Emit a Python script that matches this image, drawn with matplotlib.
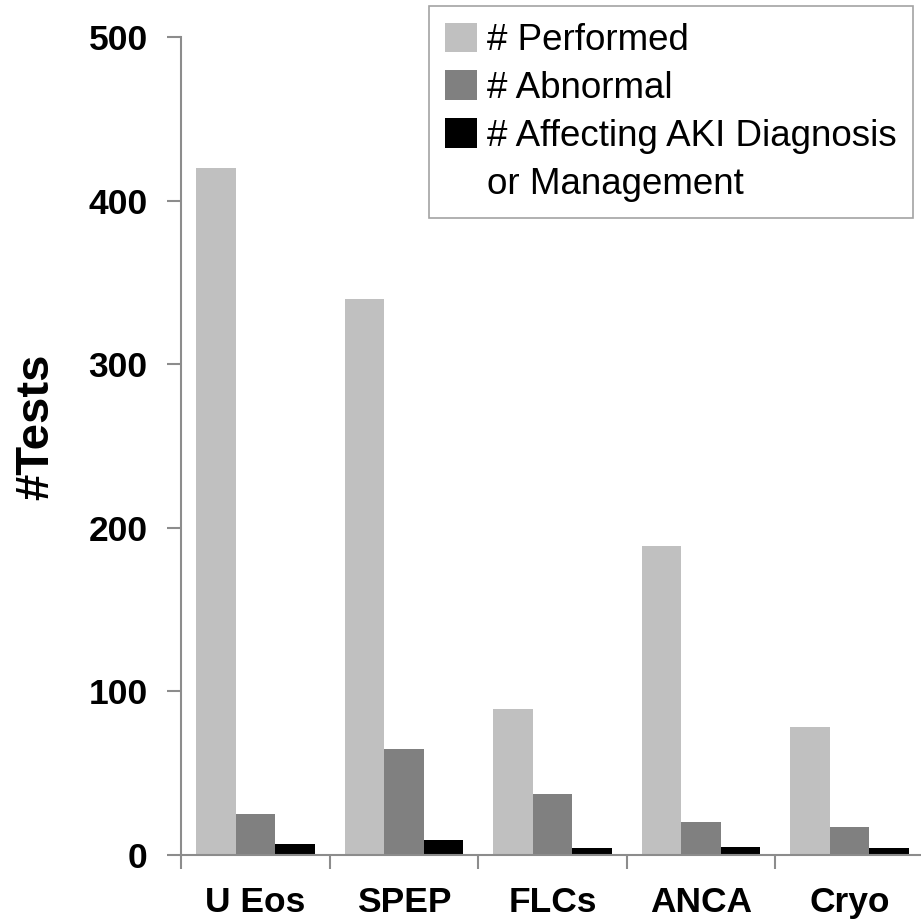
import matplotlib.pyplot as plt
from matplotlib.patches import Patch
import numpy as np

plt.rcParams['font.family'] = ['Liberation Sans', 'DejaVu Sans']

tests = ['U Eos', 'SPEP', 'FLCs', 'ANCA', 'Cryo']
performed = [420, 340, 89, 189, 78]
abnormal = [25, 65, 37, 20, 17]
affecting = [7, 9, 4, 5, 4]

series = [('# Performed', performed, '#c0c0c0'),
          ('# Abnormal', abnormal, '#808080'),
          ('# Affecting AKI Diagnosis', affecting, '#000000')]

fig = plt.figure(figsize=(9.21, 9.19), dpi=100)
ax = fig.add_axes([181 / 921, 64 / 919, 743 / 921, 818 / 919])

x = np.arange(len(tests))
w = 0.266
for i, (name, vals, col) in enumerate(series):
    ax.bar(x + (i - 1) * w, vals, width=w, color=col, label=name, linewidth=0)

ax.set_xlim(-0.5, len(tests) - 0.5)
ax.set_ylim(0, 500)
ax.set_yticks(range(0, 501, 100))

# group separators as ticks, names as untick'd minor labels
ax.set_xticks(np.arange(-0.5, len(tests), 1.0))
ax.set_xticklabels([])
ax.set_xticks(x, minor=True)
ax.set_xticklabels(tests, minor=True, fontsize=25.5, fontweight='bold')
ax.tick_params(axis='x', which='minor', length=0, pad=22)
ax.tick_params(axis='x', which='major', length=10, width=1.5, color='#8c8c8c')
ax.tick_params(axis='y', length=10, width=1.5, color='#8c8c8c', pad=14)
for lab in ax.get_yticklabels():
    lab.set_fontsize(25.5)
    lab.set_fontweight('bold')

for s in ['top', 'right']:
    ax.spines[s].set_visible(False)
for s in ['left', 'bottom']:
    ax.spines[s].set_color('#8c8c8c')
    ax.spines[s].set_linewidth(1.5)

ax.set_ylabel('#Tests', fontsize=34, fontweight='bold')
ax.yaxis.set_label_coords(-0.165, 0.523)

# second line of the last entry gets an empty handle so the square sits on line one
handles, labels = ax.get_legend_handles_labels()
handles.append(Patch(facecolor='none', edgecolor='none'))
labels.append('or Management')
leg = ax.legend(handles, labels, loc='upper right',
                bbox_to_anchor=(913 / 921, 1 - 6 / 919),
                bbox_transform=fig.transFigure, borderaxespad=0,
                fontsize=26.5, frameon=True, fancybox=False,
                handlelength=0.87, handleheight=0.87, handletextpad=0.25,
                labelspacing=0.33, borderpad=0.45)
leg.get_frame().set_edgecolor('#8c8c8c')
leg.get_frame().set_linewidth(1.2)

fig.savefig('out.png', dpi=100)
